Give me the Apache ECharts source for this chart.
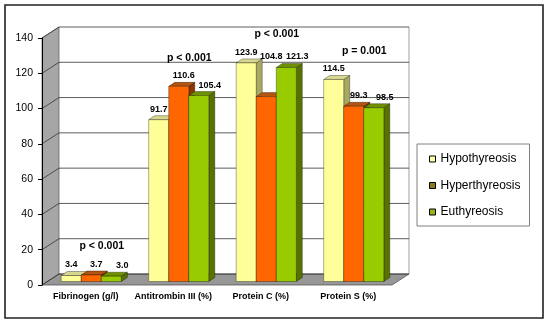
<!DOCTYPE html>
<html><head><meta charset="utf-8">
<script src="https://cdn.jsdelivr.net/npm/echarts@6/dist/echarts.min.js"></script>
<style>html,body{margin:0;padding:0;background:#fff}#c{width:550px;height:324px}</style>
</head><body><div id="c"></div>
<script>
// ---- data ----
const categories = ['Fibrinogen (g/l)', 'Antitrombin III (%)', 'Protein C (%)', 'Protein S (%)'];
const seriesNames = ['Hypothyreosis', 'Hyperthyreosis', 'Euthyreosis'];
const hypo = [3.4, 91.7, 123.9, 114.5];
const hyper = [3.7, 110.6, 104.8, 99.3];
const eu = [3.0, 105.4, 121.3, 98.5];
const pValues = ['p < 0.001', 'p < 0.001', 'p < 0.001', 'p = 0.001'];
const yTicks = [0, 20, 40, 60, 80, 100, 120, 140];

// ---- styles ----
const FONT = '"Liberation Sans", Arial, sans-serif';
const faces = [
  {front: '#FFFF99', top: '#D6D68E', side: '#A8A862', legend: '#FFFFA8'},
  {front: '#FF6600', top: '#B5540F', side: '#8C3500', legend: '#8E7A1C'},
  {front: '#99CC00', top: '#6F9100', side: '#587200', legend: '#9CB21A'}
];
const DEPTH = [17, -11];
const BAR_DEPTH = [6, -4];
const LABEL_SHIFT = [-3, 2, 8];
const allVals = [hypo, hyper, eu];

function barGeom(api, cat, g, val) {
  const base = api.coord([cat, 0]);
  const top = api.coord([cat, val]);
  const band = api.size([1, 0])[0];
  const bw = band * 0.229;
  const ox = (DEPTH[0] - BAR_DEPTH[0]) / 2, oy = (DEPTH[1] - BAR_DEPTH[1]) / 2;
  const x0 = base[0] - 1.5 * bw + g * bw + ox;
  return {x0: x0, x1: x0 + bw, yb: base[1] + oy, yt: top[1] + oy, bw: bw};
}

function barRender(g) {
  return function (params, api) {
    const cat = api.value(0), val = api.value(1);
    const b = barGeom(api, cat, g, val);
    const dx = BAR_DEPTH[0], dy = BAR_DEPTH[1];
    const c = faces[g];
    const st = {stroke: 'rgba(0,0,0,0.55)', lineWidth: 0.6};
    const txt = val.toFixed(1);
    const lx = b.x0 + b.bw / 2 + dx / 2 + LABEL_SHIFT[g];
    const hw = txt.length * 2.1;
    let ly = b.yt - 10.5;
    for (let k = 0; k < 3; k++) {
      if (k === g) continue;
      const nv = allVals[k][cat];
      if (nv <= val) continue;
      const nb = barGeom(api, cat, k, nv);
      if (lx + hw > nb.x0 && lx - hw < nb.x1) ly = Math.min(ly, nb.yt - 10.5);
    }
    return {type: 'group', children: [
      {type: 'polygon', shape: {points: [[b.x1, b.yb], [b.x1 + dx, b.yb + dy], [b.x1 + dx, b.yt + dy], [b.x1, b.yt]]}, style: Object.assign({fill: c.side}, st)},
      {type: 'polygon', shape: {points: [[b.x0, b.yt], [b.x1, b.yt], [b.x1 + dx, b.yt + dy], [b.x0 + dx, b.yt + dy]]}, style: Object.assign({fill: c.top}, st)},
      {type: 'rect', shape: {x: b.x0, y: b.yt, width: b.bw, height: b.yb - b.yt}, style: Object.assign({fill: c.front}, st)},
      {type: 'text', z2: 100, x: lx, y: ly, style: {text: txt, fill: '#000', font: 'bold 9px ' + FONT, align: 'center', verticalAlign: 'middle'}}
    ]};
  };
}

function decorRender(params, api) {
  const cs = params.coordSys;
  const L = cs.x, R = cs.x + cs.width;
  const y0 = api.coord([0, yTicks[0]])[1];
  const yT = api.coord([0, yTicks[yTicks.length - 1]])[1];
  const dx = DEPTH[0], dy = DEPTH[1];
  const ch = [];
  ch.push({type: 'polygon', shape: {points: [[L, y0], [L, yT], [L + dx, yT + dy], [L + dx, y0 + dy]]}, style: {fill: '#A6A6A6', stroke: '#666', lineWidth: 0.8}});
  ch.push({type: 'polygon', shape: {points: [[L, y0], [R, y0], [R + dx, y0 + dy], [L + dx, y0 + dy]]}, style: {fill: '#979797', stroke: '#555', lineWidth: 0.8}});
  ch.push({type: 'line', shape: {x1: R + dx, y1: yT + dy, x2: R + dx, y2: y0 + dy}, style: {stroke: '#A0A0A0', lineWidth: 1}});
  yTicks.forEach(function (v) {
    const y = api.coord([0, v])[1];
    ch.push({type: 'line', shape: {x1: L, y1: y, x2: L + dx, y2: y + dy}, style: {stroke: '#333', lineWidth: 0.8}});
    ch.push({type: 'line', shape: {x1: L + dx, y1: y + dy, x2: R + dx, y2: y + dy}, style: {stroke: '#333', lineWidth: 0.8}});
  });
  return {type: 'group', children: ch};
}

function pRender(params, api) {
  const i = api.value(0);
  const p = api.coord([i, api.value(1)]);
  return {type: 'text', z2: 100, x: p[0] + 16, y: p[1] - 32,
    style: {text: pValues[i], fill: '#000', font: 'bold 10.5px ' + FONT, align: 'center', verticalAlign: 'middle'}};
}

const chart = echarts.init(document.getElementById('c'), null, {renderer: 'canvas'});
const series = [
  {type: 'custom', name: 'decor', renderItem: decorRender, data: [[0, 0]], silent: true, clip: false, encode: {x: 0, y: 1}}
];
seriesNames.forEach(function (n, g) {
  series.push({type: 'custom', name: n, renderItem: barRender(g), clip: false,
    itemStyle: {color: faces[g].legend},
    data: allVals[g].map(function (v, i) { return [i, v]; }), encode: {x: 0, y: 1}});
});
series.push({type: 'custom', name: 'pvals', renderItem: pRender, silent: true, clip: false,
  data: categories.map(function (c, i) { return [i, Math.max(hypo[i], hyper[i], eu[i])]; }), encode: {x: 0, y: 1}});

chart.setOption({
  animation: false,
  textStyle: {fontFamily: FONT},
  graphic: [{type: 'rect', shape: {x: 5, y: 5, width: 538, height: 313}, style: {fill: 'none', stroke: '#222', lineWidth: 1.6}, z: 100}],
  grid: {left: 42, top: 38, width: 350, height: 247, containLabel: false, outerBoundsMode: 'none'},
  xAxis: {type: 'category', data: categories, axisLine: {show: false}, axisTick: {show: false},
    axisLabel: {interval: 0, margin: 7, color: '#000', fontSize: 9, fontWeight: 'bold', fontFamily: FONT}},
  yAxis: {type: 'value', min: yTicks[0], max: yTicks[yTicks.length - 1], interval: yTicks[1] - yTicks[0], z: 10,
    axisLine: {show: true, lineStyle: {color: '#000', width: 1}},
    axisTick: {show: true, length: 4, lineStyle: {color: '#000'}},
    splitLine: {show: false},
    axisLabel: {margin: 9, color: '#000', fontSize: 10.5, fontFamily: FONT}},
  legend: {orient: 'vertical', left: 417, top: 144, data: seriesNames.map(function (n, g) {
      return {name: n, itemStyle: {color: faces[g].legend, borderColor: '#000', borderWidth: 1}};
    }),
    icon: 'rect', itemWidth: 6, itemHeight: 6, itemGap: 14.5,
    padding: [9, 9, 8, 12], backgroundColor: '#fff', borderColor: '#808080', borderWidth: 1,
    textStyle: {fontSize: 12, color: '#000', fontFamily: FONT}},
  series: series
});
</script></body></html>
